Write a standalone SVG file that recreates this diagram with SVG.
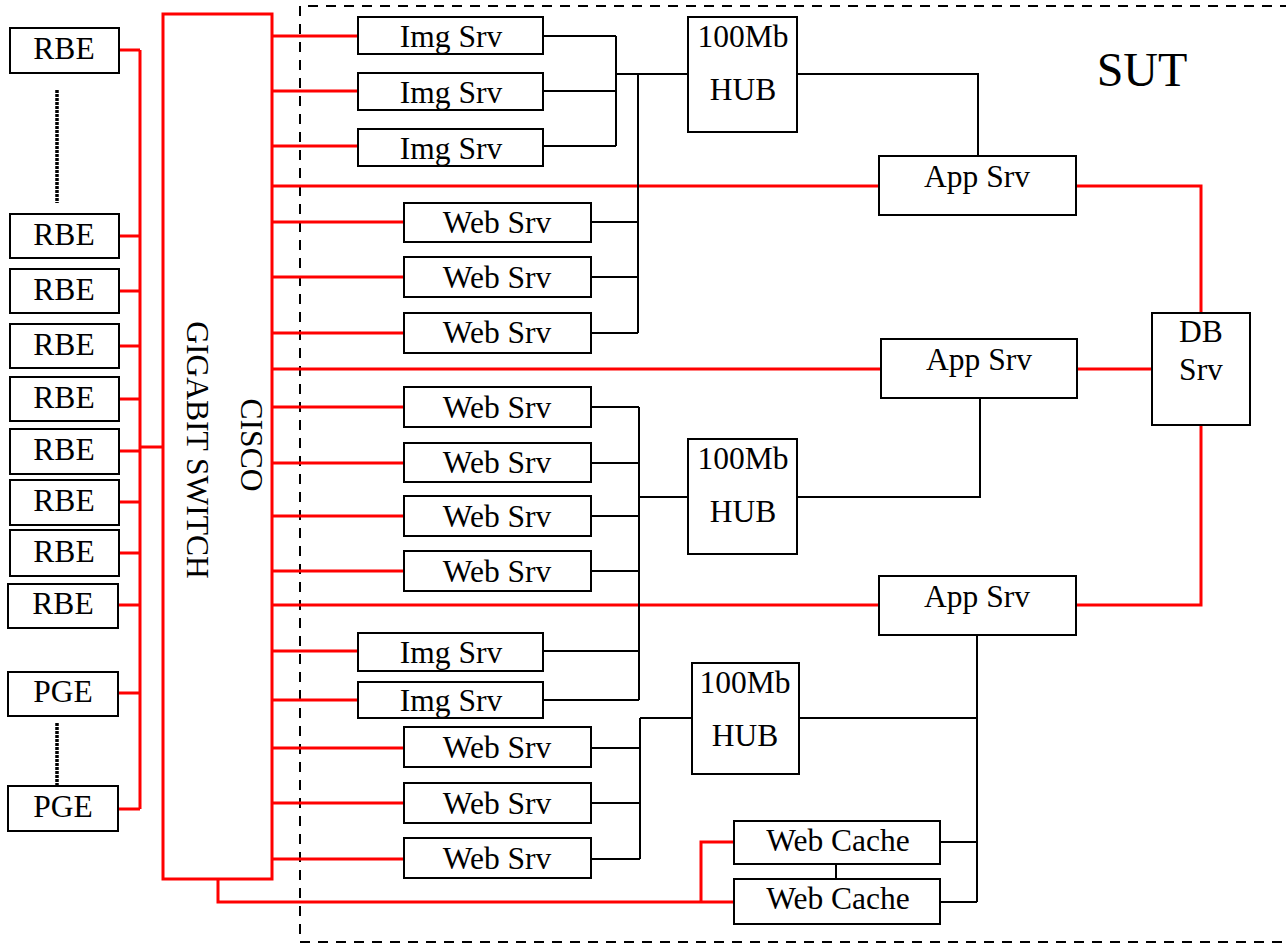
<svg xmlns="http://www.w3.org/2000/svg" width="1286" height="946" viewBox="0 0 1286 946">
<style>
.box{fill:#fff;stroke:#000;stroke-width:2}
.t{font-family:"Liberation Serif","Times New Roman",serif;font-size:31.5px;fill:#000;text-anchor:middle}
.red{fill:none;stroke:#ff0000;stroke-width:3}
.blk{fill:none;stroke:#000;stroke-width:2}
.dot{fill:none;stroke:#000;stroke-width:3.5;stroke-dasharray:3 1}
</style>
<rect width="1286" height="946" fill="#fff"/>
<g id="sut">
<path d="M1290,6 H300 V942 H1290" fill="none" stroke="#000" stroke-width="2" stroke-dasharray="10 8"/>
<text x="1142" y="86" class="t" style="font-size:48px">SUT</text>
</g>
<g id="connectors">
<path class="dot" d="M57,90 V203 M57,723 V787"/>
<path class="red" d="M119,50 H140 M119,236 H140 M119,291 H140 M119,346 H140 M119,399 H140 M119,451 H140 M119,502 H140 M119,553 H140 M119,605 H140 M119,693 H140 M119,809 H140 M140,50 V809 M140,447 H163"/>
<path class="red" d="M272,36 H358 M272,91 H358 M272,146 H358 M272,186 H879 M272,222 H404 M272,277 H404 M272,333 H404 M272,369 H881 M272,407 H404 M272,463 H404 M272,516 H404 M272,571 H404 M272,605 H879 M272,651 H358 M272,700 H358 M272,748 H404 M272,803 H404 M272,859 H404"/>
<path class="red" d="M1076,186 H1201 V313 M1077,369 H1152 M1201,425 V605 H1076"/>
<path class="red" d="M218,879 V902 H734 M701,902 V842 H734"/>
<path class="blk" d="M543,36 H616 M543,91 H616 M543,146 H616 M616,36 V146 M616,74 H688 M638,74 V333 M591,222 H638 M591,277 H638 M591,333 H638 M797,74 H978 V156"/>
<path class="blk" d="M639,407 V700 M591,407 H639 M591,463 H639 M591,516 H639 M591,571 H639 M543,651 H639 M543,700 H639 M639,497 H688 M797,497 H980 V398"/>
<path class="blk" d="M640,718 V859 M640,718 H692 M591,748 H640 M591,803 H640 M591,859 H640 M799,718 H977 M977,635 V902 M940,842 H977 M940,902 H977 M836,864 V879"/>
</g>
<g id="rbe1"><rect class="box" x="10" y="28" width="109" height="45"/><text class="t" x="64" y="59">RBE</text></g>
<g id="rbe2"><rect class="box" x="10" y="214" width="109" height="44"/><text class="t" x="64" y="245">RBE</text></g>
<g id="rbe3"><rect class="box" x="10" y="269" width="109" height="44"/><text class="t" x="64" y="300">RBE</text></g>
<g id="rbe4"><rect class="box" x="10" y="324" width="109" height="44"/><text class="t" x="64" y="355">RBE</text></g>
<g id="rbe5"><rect class="box" x="10" y="377" width="109" height="44"/><text class="t" x="64" y="408">RBE</text></g>
<g id="rbe6"><rect class="box" x="10" y="429" width="109" height="45"/><text class="t" x="64" y="460">RBE</text></g>
<g id="rbe7"><rect class="box" x="10" y="480" width="109" height="45"/><text class="t" x="64" y="511">RBE</text></g>
<g id="rbe8"><rect class="box" x="10" y="530" width="109" height="46"/><text class="t" x="64" y="562">RBE</text></g>
<g id="rbe9"><rect class="box" x="8" y="584" width="110" height="44"/><text class="t" x="63" y="614">RBE</text></g>
<g id="pge1"><rect class="box" x="8" y="672" width="110" height="44"/><text class="t" x="63" y="702">PGE</text></g>
<g id="pge2"><rect class="box" x="8" y="786" width="110" height="45"/><text class="t" x="63" y="817">PGE</text></g>
<g id="switch">
<rect x="163" y="14" width="109" height="865" fill="#fff" stroke="#ff0000" stroke-width="3"/>
<text class="t" transform="translate(241,445) rotate(90)">CISCO</text>
<text class="t" transform="translate(187,450) rotate(90)">GIGABIT SWITCH</text>
</g>
<g id="img1"><rect class="box" x="358" y="17" width="185" height="37"/><text class="t" x="451" y="47">Img Srv</text></g>
<g id="img2"><rect class="box" x="358" y="73" width="185" height="37"/><text class="t" x="451" y="103">Img Srv</text></g>
<g id="img3"><rect class="box" x="358" y="129" width="185" height="37"/><text class="t" x="451" y="159">Img Srv</text></g>
<g id="hub1"><rect class="box" x="688" y="17" width="109" height="115"/><text class="t" x="743" y="47">100Mb</text><text class="t" x="743" y="100">HUB</text></g>
<g id="app1"><rect class="box" x="879" y="156" width="197" height="59"/><text class="t" x="977" y="187">App Srv</text></g>
<g id="web1"><rect class="box" x="404" y="203" width="187" height="39"/><text class="t" x="497" y="233">Web Srv</text></g>
<g id="web2"><rect class="box" x="404" y="257" width="187" height="40"/><text class="t" x="497" y="288">Web Srv</text></g>
<g id="web3"><rect class="box" x="404" y="313" width="187" height="40"/><text class="t" x="497" y="343">Web Srv</text></g>
<g id="app2"><rect class="box" x="881" y="339" width="196" height="59"/><text class="t" x="979" y="370">App Srv</text></g>
<g id="db"><rect class="box" x="1152" y="313" width="98" height="112"/><text class="t" x="1201" y="342">DB</text><text class="t" x="1201" y="380">Srv</text></g>
<g id="web4"><rect class="box" x="404" y="387" width="187" height="40"/><text class="t" x="497" y="418">Web Srv</text></g>
<g id="web5"><rect class="box" x="404" y="443" width="187" height="39"/><text class="t" x="497" y="473">Web Srv</text></g>
<g id="web6"><rect class="box" x="404" y="496" width="187" height="40"/><text class="t" x="497" y="527">Web Srv</text></g>
<g id="web7"><rect class="box" x="404" y="551" width="187" height="40"/><text class="t" x="497" y="582">Web Srv</text></g>
<g id="hub2"><rect class="box" x="688" y="439" width="109" height="115"/><text class="t" x="743" y="469">100Mb</text><text class="t" x="743" y="522">HUB</text></g>
<g id="app3"><rect class="box" x="879" y="576" width="197" height="59"/><text class="t" x="977" y="607">App Srv</text></g>
<g id="img4"><rect class="box" x="358" y="633" width="185" height="38"/><text class="t" x="451" y="663">Img Srv</text></g>
<g id="img5"><rect class="box" x="358" y="682" width="185" height="36"/><text class="t" x="451" y="711">Img Srv</text></g>
<g id="hub3"><rect class="box" x="692" y="663" width="107" height="111"/><text class="t" x="745" y="693">100Mb</text><text class="t" x="745" y="746">HUB</text></g>
<g id="web8"><rect class="box" x="404" y="727" width="187" height="40"/><text class="t" x="497" y="758">Web Srv</text></g>
<g id="web9"><rect class="box" x="404" y="783" width="187" height="40"/><text class="t" x="497" y="814">Web Srv</text></g>
<g id="web10"><rect class="box" x="404" y="838" width="187" height="40"/><text class="t" x="497" y="869">Web Srv</text></g>
<g id="cache1"><rect class="box" x="734" y="821" width="206" height="43"/><text class="t" x="838" y="851">Web Cache</text></g>
<g id="cache2"><rect class="box" x="734" y="879" width="206" height="45"/><text class="t" x="838" y="909">Web Cache</text></g>
</svg>
